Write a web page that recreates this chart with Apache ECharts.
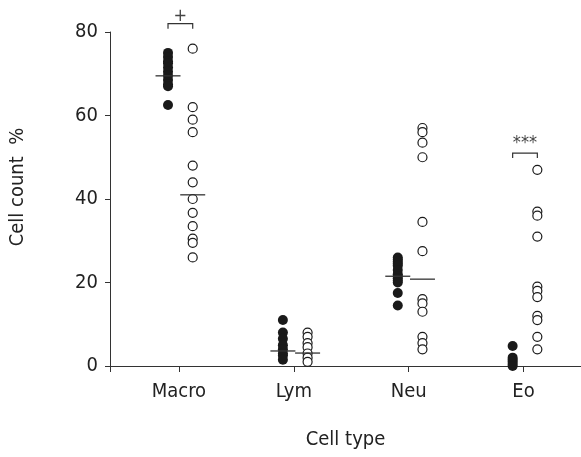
<!DOCTYPE html>
<html><head><meta charset="utf-8">
<script src="https://cdn.jsdelivr.net/npm/echarts@6/dist/echarts.min.js"></script>
<style>html,body{margin:0;padding:0;background:#fff}#c{width:581px;height:457px}</style>
</head><body><div id="c"></div>
<script>
var categories = ['Macro', 'Lym', 'Neu', 'Eo'];
// filled (group A) values per category
var filledMacro = [75, 74, 73, 72.5, 71.5, 70.5, 69.5, 68.5, 67.5, 67, 62.5];
var filledLym = [11, 8, 6.5, 5, 4, 3, 2.5, 1.5];
var filledNeu = [26, 25.5, 25, 24.5, 24, 23, 22, 21.5, 21, 20.5, 20, 17.5, 14.5];
var filledEo = [4.8, 2, 1.5, 1, 0.5, 0];
// open (group B) values per category
var openMacro = [76, 62, 59, 56, 48, 44, 40, 36.7, 33.5, 30.5, 29.5, 26];
var openLym = [8, 7, 5.5, 4.5, 3, 2, 1];
var openNeu = [57, 56, 53.5, 50, 34.5, 27.5, 16, 15, 13, 7, 5.5, 4];
var openEo = [47, 37, 36, 31, 19, 18, 16.5, 12, 11, 7, 4];
// median lines
var medianFilled = [69.5, 3.6, 21.5, null];
var medianOpen = [41, 3.1, 20.8, null];
// significance marks
var sigLabels = ['+', '', '', '***'];
var sigHeights = [82, null, null, 51];

var FONT = "'Liberation Sans Narrow','DejaVu Sans Condensed','Liberation Sans',sans-serif";
var offF = -0.095, offO = 0.12;
var filledAll = [filledMacro, filledLym, filledNeu, filledEo];
var openAll = [openMacro, openLym, openNeu, openEo];
function pts(groups, off) {
  var out = [];
  groups.forEach(function (g, i) { g.forEach(function (v) { out.push([i + 1 + off, v]); }); });
  return out;
}
var medData = [];
medianFilled.forEach(function (v, i) { if (v != null) medData.push([i + 1 + offF, v]); });
medianOpen.forEach(function (v, i) { if (v != null) medData.push([i + 1 + offO, v]); });
var sigData = [];
sigHeights.forEach(function (h, i) { if (h != null) sigData.push([i + 1, h]); });

var chart = echarts.init(document.getElementById('c'));
chart.setOption({
  animation: false,
  grid: { left: 108, right: 0, top: 32, bottom: 91 },
  xAxis: {
    type: 'value', min: 0.4, max: 4.5,
    name: 'Cell type', nameLocation: 'middle', nameGap: 64,
    nameTextStyle: { fontFamily: FONT, fontSize: 20, color: '#222' },
    axisLine: { show: true, lineStyle: { color: '#333', width: 1 } },
    axisTick: { show: true, length: 6, customValues: [0.4, 1, 2, 3, 4], lineStyle: { color: '#333' } },
    axisLabel: { customValues: [1, 2, 3, 4], margin: 16, fontFamily: FONT, fontSize: 20, color: '#222',
      formatter: function (v) { return categories[Math.round(v) - 1] || ''; } },
    splitLine: { show: false }
  },
  yAxis: {
    type: 'value', min: 0, max: 80, interval: 20,
    name: 'Cell count  %', nameLocation: 'middle', nameGap: 82, nameRotate: 90,
    nameTextStyle: { fontFamily: FONT, fontSize: 20, color: '#222', padding: [0, 0, 0, 24] },
    axisLine: { show: true, lineStyle: { color: '#333', width: 1 } },
    axisTick: { show: true, length: 5, lineStyle: { color: '#333' } },
    axisLabel: { margin: 12, fontFamily: FONT, fontSize: 20, color: '#222' },
    splitLine: { show: false }
  },
  series: [
    { type: 'scatter', data: pts(filledAll, offF), symbolSize: 10,
      itemStyle: { color: '#1a1a1a', opacity: 1 }, z: 3 },
    { type: 'scatter', data: pts(openAll, offO), symbolSize: 9,
      itemStyle: { color: '#fff', borderColor: '#1a1a1a', borderWidth: 1.2, opacity: 1 }, z: 3 },
    { type: 'custom', data: medData, z: 4,
      renderItem: function (params, api) {
        var c = api.coord([api.value(0), api.value(1)]);
        return { type: 'line', shape: { x1: c[0] - 12.5, y1: c[1], x2: c[0] + 12.5, y2: c[1] },
          style: { stroke: '#333', lineWidth: 1.3 } };
      } },
    { type: 'custom', data: sigData, clip: false, z: 4,
      renderItem: function (params, api) {
        var a = api.coord([api.value(0) + offF, api.value(1)]);
        var b = api.coord([api.value(0) + offO, api.value(1)]);
        var idx = Math.round(api.value(0)) - 1;
        var lab = sigLabels[idx];
        var dy = lab === '+' ? 7 : 10;
        return { type: 'group', children: [
          { type: 'polyline', shape: { points: [[a[0], a[1] + 5], [a[0], a[1]], [b[0], b[1]], [b[0], b[1] + 5]] },
            style: { stroke: '#333', lineWidth: 1.2, fill: null } },
          { type: 'text', style: { text: lab, x: (a[0] + b[0]) / 2, y: a[1] - dy,
              textAlign: 'center', textVerticalAlign: 'middle',
              font: '18px ' + FONT, fill: '#444' } }
        ] };
      } }
  ]
});
</script></body></html>
